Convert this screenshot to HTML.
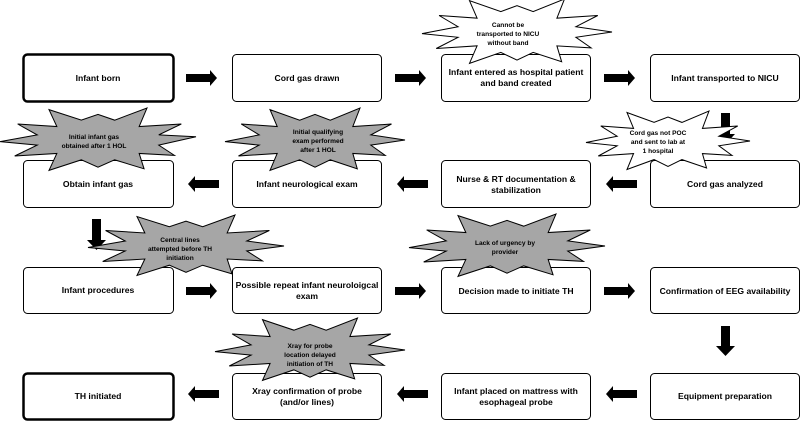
<!DOCTYPE html>
<html><head><meta charset="utf-8"><style>
body{margin:0;background:#fff}
svg{display:block;font-family:"Liberation Sans",sans-serif;font-weight:bold}
.b{fill:#fff;stroke:#000;stroke-width:1}
.bt{font-size:8.6px;text-anchor:middle}
.st{font-size:6.6px;text-anchor:middle}
.g{fill:#a6a6a6;stroke:#000;stroke-width:1}
.w{fill:#fff;stroke:#000;stroke-width:1}
</style></head><body>
<svg width="800" height="422" viewBox="0 0 800 422">
<rect x="23.5" y="54.5" width="150" height="47" rx="4" class="b" style="stroke-width:2.5"/>
<rect x="232.5" y="54.5" width="149" height="47" rx="4" class="b"/>
<rect x="441.5" y="54.5" width="149" height="47" rx="4" class="b"/>
<rect x="650.5" y="54.5" width="149" height="47" rx="4" class="b"/>
<rect x="23.5" y="160.5" width="150" height="47" rx="4" class="b"/>
<rect x="232.5" y="160.5" width="149" height="47" rx="4" class="b"/>
<rect x="441.5" y="160.5" width="149" height="47" rx="4" class="b"/>
<rect x="650.5" y="160.5" width="149" height="47" rx="4" class="b"/>
<rect x="23.5" y="267.5" width="150" height="46" rx="4" class="b"/>
<rect x="232.5" y="267.5" width="149" height="46" rx="4" class="b"/>
<rect x="441.5" y="267.5" width="149" height="46" rx="4" class="b"/>
<rect x="650.5" y="267.5" width="149" height="46" rx="4" class="b"/>
<rect x="23.5" y="373.5" width="150" height="46" rx="4" class="b" style="stroke-width:2.5"/>
<rect x="232.5" y="373.5" width="149" height="46" rx="4" class="b"/>
<rect x="441.5" y="373.5" width="149" height="46" rx="4" class="b"/>
<rect x="650.5" y="373.5" width="149" height="46" rx="4" class="b"/>
<polygon points="186,74 210,74 210,70 217,78 210,86 210,82 186,82"/>
<polygon points="395,74 419,74 419,70 426,78 419,86 419,82 395,82"/>
<polygon points="604,74 628,74 628,70 635,78 628,86 628,82 604,82"/>
<polygon points="186,287 210,287 210,283 217,291 210,299 210,295 186,295"/>
<polygon points="395,287 419,287 419,283 426,291 419,299 419,295 395,295"/>
<polygon points="604,287 628,287 628,283 635,291 628,299 628,295 604,295"/>
<polygon points="219,180 195,180 195,176 188,184 195,192 195,188 219,188"/>
<polygon points="428,180 404,180 404,176 397,184 404,192 404,188 428,188"/>
<polygon points="637,180 613,180 613,176 606,184 613,192 613,188 637,188"/>
<polygon points="219,390 195,390 195,386 188,394 195,402 195,398 219,398"/>
<polygon points="428,390 404,390 404,386 397,394 404,402 404,398 428,398"/>
<polygon points="637,390 613,390 613,386 606,394 613,402 613,398 637,398"/>
<polygon points="721,113 730,113 730,134 735,134 725.5,144 716,134 721,134"/>
<polygon points="92,219 101,219 101,240 106,240 96.5,250 87,240 92,240"/>
<polygon points="721,326 730,326 730,346 735,346 725.5,356 716,346 721,346"/>
<text class="bt" x="98" y="81">Infant born</text>
<text class="bt" x="307" y="81">Cord gas drawn</text>
<text class="bt" x="516" y="75">Infant entered as hospital patient</text>
<text class="bt" x="516" y="86">and band created</text>
<text class="bt" x="725" y="81">Infant transported to NICU</text>
<text class="bt" x="98" y="187">Obtain infant gas</text>
<text class="bt" x="307" y="187">Infant neurological exam</text>
<text class="bt" x="516" y="182">Nurse &amp; RT documentation &amp;</text>
<text class="bt" x="516" y="193">stabilization</text>
<text class="bt" x="725" y="187">Cord gas analyzed</text>
<text class="bt" x="98" y="293">Infant procedures</text>
<text class="bt" x="307" y="288">Possible repeat infant neuroloigcal</text>
<text class="bt" x="307" y="299">exam</text>
<text class="bt" x="516" y="294">Decision made to initiate TH</text>
<text class="bt" x="725" y="294">Confirmation of EEG availability</text>
<text class="bt" x="98" y="399">TH initiated</text>
<text class="bt" x="307" y="394">Xray confirmation of probe</text>
<text class="bt" x="307" y="405">(and/or lines)</text>
<text class="bt" x="516" y="394">Infant placed on mattress with</text>
<text class="bt" x="516" y="405">esophageal probe</text>
<text class="bt" x="725" y="399">Equipment preparation</text>
<g id="stars">
<polygon class="w" vector-effect="non-scaling-stroke" transform="translate(517,32) scale(95,33)" points="1,0 0.62,0.16 0.78,0.48 0.42,0.42 0.47,0.9 0.17,0.62 0,0.85 -0.17,0.62 -0.5,0.95 -0.42,0.42 -0.85,0.5 -0.62,0.16 -1,0.05 -0.62,-0.16 -0.82,-0.5 -0.42,-0.42 -0.5,-0.95 -0.17,-0.62 0,-0.8 0.17,-0.62 0.5,-1 0.42,-0.42 0.85,-0.5 0.62,-0.16"/>
<polygon class="g" vector-effect="non-scaling-stroke" transform="translate(98,140) scale(98,32)" points="1,-0.1 0.62,0.16 0.78,0.48 0.42,0.42 0.47,0.9 0.17,0.62 0,0.85 -0.17,0.62 -0.5,0.95 -0.42,0.42 -0.85,0.5 -0.62,0.16 -1,0.05 -0.62,-0.16 -0.82,-0.5 -0.42,-0.42 -0.5,-0.95 -0.17,-0.62 0,-0.8 0.17,-0.62 0.5,-1 0.42,-0.42 0.85,-0.5 0.62,-0.16"/>
<polygon class="g" vector-effect="non-scaling-stroke" transform="translate(315,140) scale(90,32)" points="1,0 0.62,0.16 0.78,0.48 0.42,0.42 0.47,0.9 0.17,0.62 0,0.85 -0.17,0.62 -0.5,0.95 -0.42,0.42 -0.85,0.5 -0.62,0.16 -1,0.05 -0.62,-0.16 -0.82,-0.5 -0.42,-0.42 -0.5,-0.95 -0.17,-0.62 0,-0.8 0.17,-0.62 0.5,-1 0.42,-0.42 0.85,-0.5 0.62,-0.16"/>
<polygon class="w" vector-effect="non-scaling-stroke" transform="translate(668,141) scale(82,30)" points="1,0 0.62,0.16 0.78,0.48 0.42,0.42 0.47,0.9 0.17,0.62 0,0.85 -0.17,0.62 -0.5,0.95 -0.42,0.42 -0.85,0.5 -0.62,0.16 -1,0.05 -0.62,-0.16 -0.82,-0.5 -0.42,-0.42 -0.5,-0.95 -0.17,-0.62 0,-0.8 0.17,-0.62 0.5,-1 0.42,-0.42 0.85,-0.5 0.62,-0.16"/>
<polygon class="g" vector-effect="non-scaling-stroke" transform="translate(186,246) scale(98,31)" points="1,0 0.62,0.16 0.78,0.48 0.42,0.42 0.47,0.9 0.17,0.62 0,0.85 -0.17,0.62 -0.5,0.95 -0.42,0.42 -0.85,0.5 -0.62,0.16 -1,0.05 -0.62,-0.16 -0.82,-0.5 -0.42,-0.42 -0.5,-0.95 -0.17,-0.62 0,-0.8 0.17,-0.62 0.5,-1 0.42,-0.42 0.85,-0.5 0.62,-0.16"/>
<polygon class="g" vector-effect="non-scaling-stroke" transform="translate(507,246) scale(98,32)" points="1,0 0.62,0.16 0.78,0.48 0.42,0.42 0.47,0.9 0.17,0.62 0,0.85 -0.17,0.62 -0.5,0.95 -0.42,0.42 -0.85,0.5 -0.62,0.16 -1,0.05 -0.62,-0.16 -0.82,-0.5 -0.42,-0.42 -0.5,-0.95 -0.17,-0.62 0,-0.8 0.17,-0.62 0.5,-1 0.42,-0.42 0.85,-0.5 0.62,-0.16"/>
<polygon class="g" vector-effect="non-scaling-stroke" transform="translate(310,350) scale(95,32)" points="1,0 0.62,0.16 0.78,0.48 0.42,0.42 0.47,0.9 0.17,0.62 0,0.85 -0.17,0.62 -0.5,0.95 -0.42,0.42 -0.85,0.5 -0.62,0.16 -1,0.05 -0.62,-0.16 -0.82,-0.5 -0.42,-0.42 -0.5,-0.95 -0.17,-0.62 0,-0.8 0.17,-0.62 0.5,-1 0.42,-0.42 0.85,-0.5 0.62,-0.16"/>
</g>
<text class="st" x="508" y="27">Cannot be</text>
<text class="st" x="508" y="36">transported to NICU</text>
<text class="st" x="508" y="45">without band</text>
<text class="st" x="94" y="139">Initial infant gas</text>
<text class="st" x="94" y="148">obtained after 1 HOL</text>
<text class="st" x="318" y="134">Initial qualifying</text>
<text class="st" x="318" y="143">exam performed</text>
<text class="st" x="318" y="152">after 1 HOL</text>
<text class="st" x="658" y="135">Cord gas not POC</text>
<text class="st" x="658" y="144">and sent to lab at</text>
<text class="st" x="658" y="153">1 hospital</text>
<text class="st" x="180" y="242">Central lines</text>
<text class="st" x="180" y="251">attempted before TH</text>
<text class="st" x="180" y="260">initiation</text>
<text class="st" x="505" y="245">Lack of urgency by</text>
<text class="st" x="505" y="254">provider</text>
<text class="st" x="310" y="348">Xray  for probe</text>
<text class="st" x="310" y="357">location delayed</text>
<text class="st" x="310" y="366">initiation of TH</text>
</svg>
</body></html>
